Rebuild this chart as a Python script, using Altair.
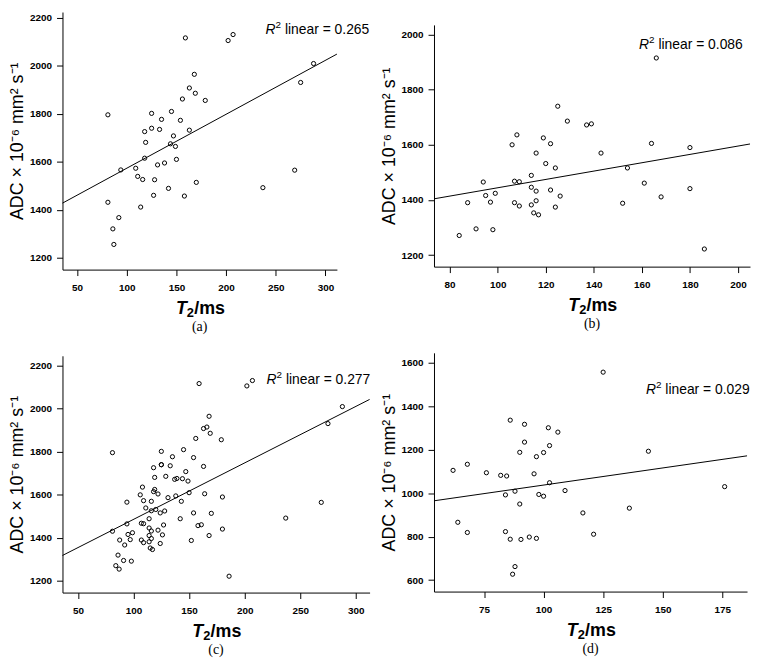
import altair as alt
import pandas as pd

# ---------------- data ----------------
# (a)
a_t2 = [81, 159, 168, 163, 169, 156, 179, 125, 145, 135, 154, 125, 133, 118, 163, 147, 119, 144, 149, 118,
        150, 94, 109, 131, 138, 111, 116, 128, 170, 142, 127, 158, 81, 114, 92, 86, 87, 202, 207, 288, 275, 269, 237]
a_adc = [1796, 2117, 1965, 1908, 1886, 1862, 1856, 1802, 1810, 1777, 1773, 1740, 1735, 1726, 1732, 1708, 1681,
         1675, 1664, 1615, 1610, 1566, 1573, 1587, 1595, 1539, 1526, 1525, 1514, 1489, 1460, 1457, 1431, 1411,
         1367, 1320, 1255, 2106, 2131, 2010, 1931, 1565, 1492]
# (b)
b_t2 = [125, 129, 137, 139, 108, 106, 119, 122, 116, 120, 124, 114, 94, 107, 109, 114, 116, 122, 99, 95,
        126, 87.5, 97, 107, 116, 109, 114, 124, 115, 117, 91, 98, 84, 166, 143, 164, 180, 154, 161, 180, 168, 152, 186]
b_adc = [1740, 1686, 1672, 1676, 1636, 1600, 1625, 1604, 1570, 1532, 1516, 1489, 1465, 1468, 1466, 1446, 1432,
         1436, 1424, 1416, 1414, 1390, 1392, 1390, 1397, 1378, 1382, 1374, 1353, 1346, 1295, 1292, 1271, 1915,
         1570, 1605, 1590, 1516, 1461, 1441, 1411, 1388, 1222]
# (c) = all points of (a) and (b)
c_t2 = a_t2 + b_t2
c_adc = a_adc + b_adc
# (d)
d_t2 = [86, 92, 102, 106, 92, 102.5, 90, 100, 97, 68, 62, 76, 82, 84.5, 96, 102.5, 109, 88, 84, 98,
        100, 90, 116.5, 64, 68, 84, 86, 90.5, 94, 97, 88, 87, 125, 144, 176, 136, 121]
d_adc = [1336, 1317, 1301, 1281, 1235, 1219, 1188, 1187, 1168, 1133, 1105, 1094, 1082, 1079, 1089, 1048, 1012,
         1009, 992, 994, 986, 950, 909, 866, 819, 823, 788, 787, 798, 792, 662, 627, 1557, 1193, 1030, 931, 811]

r2_labels = ["0.265", "0.086", "0.277", "0.029"]
captions = ["(a)", "(b)", "(c)", "(d)"]

x_ticks_a = [50, 100, 150, 200, 250, 300]
y_ticks_a = [1200, 1400, 1600, 1800, 2000, 2200]
x_ticks_b = [80, 100, 120, 140, 160, 180, 200]
y_ticks_b = [1200, 1400, 1600, 1800, 2000]
x_ticks_d = [75, 100, 125, 150, 175]
y_ticks_d = [600, 800, 1000, 1200, 1400, 1600]

FONT = "Liberation Sans"
SERIF = "Liberation Serif"
Y_TITLE = "ADC × 10⁻⁶ mm² s⁻¹"


def tiny():
    return pd.DataFrame({"k": [0]})


def txt(text, x, y, size, style="normal", weight="normal", align="left", font=FONT):
    return alt.Chart(tiny()).mark_text(
        text=text, align=align, baseline="middle", font=font, fontSize=size,
        fontStyle=style, fontWeight=weight, color="black"
    ).encode(x=alt.value(x), y=alt.value(y))


def panel(t2, adc, xdom, ydom, xticks, yticks, w, h, r2, rx, ry, caption):
    df = pd.DataFrame({"t2": t2, "adc": adc})
    x = alt.X("t2:Q", scale=alt.Scale(domain=xdom, nice=False, zero=False),
              axis=alt.Axis(values=xticks, title=None, format="d"))
    y = alt.Y("adc:Q", scale=alt.Scale(domain=ydom, nice=False, zero=False),
              axis=alt.Axis(values=yticks, title=Y_TITLE, format="d"))
    pts = alt.Chart(df).mark_point(shape="circle", filled=False, color="black",
                                   size=18, strokeWidth=1, opacity=1).encode(x=x, y=y)
    line = (alt.Chart(df)
            .transform_regression("t2", "adc", extent=xdom)
            .mark_line(color="black", strokeWidth=1)
            .encode(x="t2:Q", y="adc:Q"))
    tx = w / 2 - 24
    layers = [
        pts, line,
        # R^2 annotation
        txt("R", rx, ry, 14, style="italic"),
        txt("2", rx + 10, ry - 5, 10),
        txt("linear = " + r2, rx + 19.5, ry, 14),
        # x-axis title: italic T, subscript 2, /ms
        txt("T", tx, h + 40, 18, style="italic", weight="bold"),
        txt("2", tx + 11, h + 44, 13, weight="bold"),
        txt("/ms", tx + 18.5, h + 40, 18, weight="bold"),
        # caption
        txt(caption, w / 2, h + 58, 14, align="center", font=SERIF),
    ]
    return alt.layer(*layers).properties(width=w, height=h)


pa = panel(a_t2, a_adc, [35.3, 311.5], [1150, 2225], x_ticks_a, y_ticks_a, 277, 260,
           r2_labels[0], 205, 18, captions[0])
pb = panel(b_t2, b_adc, [73.5, 205], [1158, 2035], x_ticks_b, y_ticks_b, 319, 244,
           r2_labels[1], 207, 20, captions[1])
pc = panel(c_t2, c_adc, [36, 312.5], [1146, 2246], x_ticks_a, y_ticks_a, 310, 239,
           r2_labels[2], 206, 24, captions[2])
pd_ = panel(d_t2, d_adc, [54, 185.4], [547, 1646], x_ticks_d, y_ticks_d, 316, 241,
            r2_labels[3], 214, 38, captions[3])

# blank strip that lowers panel (b) the way the reference does
gap_b = alt.Chart(tiny()).mark_rule(color="white", strokeWidth=0.5).encode(
    x=alt.value(0), y=alt.value(0), y2=alt.value(12)).properties(width=1, height=12)

col1 = alt.vconcat(pa, pc, spacing=22)
col2 = alt.vconcat(alt.vconcat(gap_b, pb, spacing=0), pd_, spacing=22)

chart = (
    alt.hconcat(col1, col2, spacing=8)
    .properties(padding=0, background="white")
    .configure_view(stroke=None)
    .configure_axis(
        grid=False,
        domainColor="black",
        domainWidth=1,
        tickColor="black",
        tickSize=6,
        labelColor="black",
        labelFont=FONT,
        labelFontSize=10,
        labelFontWeight="bold",
        titleColor="black",
        titleFont=FONT,
    )
    .configure_axisX(labelPadding=7, labelFontWeight="bold")
    .configure_axisY(labelPadding=5, labelFontWeight="bold", titleFontSize=18,
                     titleFontWeight="normal", titlePadding=3)
)

chart.save("out.html", embed_options={"renderer": "svg", "actions": False})
